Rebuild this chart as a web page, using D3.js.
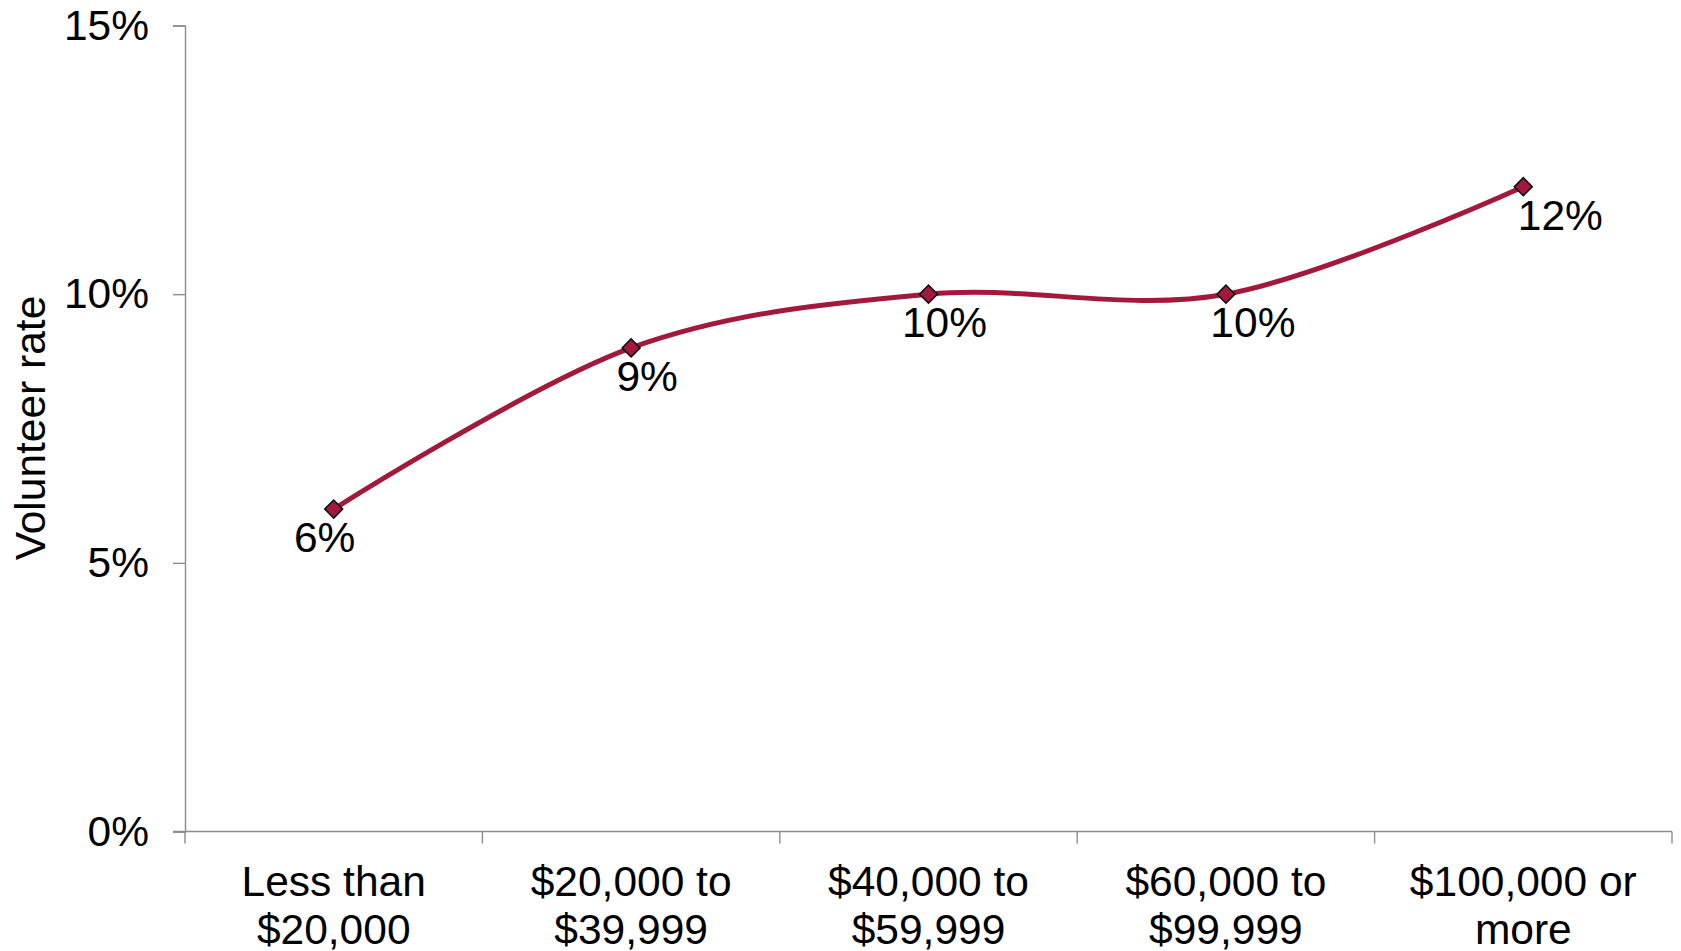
<!DOCTYPE html>
<html>
<head>
<meta charset="utf-8">
<script src="https://cdn.jsdelivr.net/npm/d3@7"></script>
<style>
  html, body { margin: 0; padding: 0; background: #fff; }
  svg { display: block; font-family: "Liberation Sans", Arial, sans-serif; }
</style>
</head>
<body>
<svg id="chart" width="1681" height="951"></svg>
<script>
// Volunteer rate by household income
const categories = [
  ["Less than", "$20,000"],
  ["$20,000 to", "$39,999"],
  ["$40,000 to", "$59,999"],
  ["$60,000 to", "$99,999"],
  ["$100,000 or", "more"]
];
const rates = [6, 9, 10, 10, 12];
const yTicks = [0, 5, 10, 15];
const yTitle = "Volunteer rate";

const lineColor = "#A3193B";
const axisColor = "#8C8C8C";
const fontSize = 42.5;

const svg = d3.select("#chart");
const margin = { left: 185, right: 9, top: 25.5, bottom: 119.5 };
const W = +svg.attr("width"), H = +svg.attr("height");
const plotW = W - margin.left - margin.right;
const plotH = H - margin.top - margin.bottom;

const keys = categories.map((c, i) => i);
const x = d3.scaleBand().domain(keys).range([0, plotW]).paddingInner(0).paddingOuter(0);
const y = d3.scaleLinear().domain([0, 15]).range([plotH, 0]);

const g = svg.append("g").attr("transform", `translate(${margin.left},${margin.top})`);

// Y axis
const yAxis = g.append("g")
  .call(d3.axisLeft(y).tickValues(yTicks).tickFormat(d => d + "%").tickSize(12).tickPadding(24));
yAxis.select(".domain").attr("stroke", axisColor).attr("stroke-width", 1.4);
yAxis.selectAll(".tick line").attr("stroke", axisColor).attr("stroke-width", 1.4);
yAxis.selectAll(".tick text")
  .attr("fill", "#000")
  .style("font-size", fontSize + "px")
  .style("font-family", '"Liberation Sans", Arial, sans-serif');

// X axis: ticks at band boundaries
const xg = g.append("g").attr("transform", `translate(0,${plotH})`);
xg.append("line")
  .attr("x1", -12).attr("x2", plotW)
  .attr("stroke", axisColor).attr("stroke-width", 1.4);
const edges = keys.map(k => x(k)).concat([plotW]);
xg.selectAll("line.edge").data(edges).join("line")
  .attr("class", "edge")
  .attr("x1", d => d).attr("x2", d => d)
  .attr("y1", 0).attr("y2", 12)
  .attr("stroke", axisColor).attr("stroke-width", 1.4);

const catText = xg.selectAll("text.cat").data(categories).join("text")
  .attr("class", "cat")
  .attr("text-anchor", "middle")
  .attr("transform", (d, i) => `translate(${x(i) + x.bandwidth() / 2},0)`)
  .style("font-size", fontSize + "px")
  .attr("fill", "#000");
catText.selectAll("tspan").data(d => d).join("tspan")
  .attr("x", 0)
  .attr("y", (d, j) => 64 + j * 48)
  .text(d => d);

// Y axis title
svg.append("text")
  .attr("transform", `translate(45,428) rotate(-90)`)
  .attr("text-anchor", "middle")
  .style("font-size", fontSize + "px")
  .attr("fill", "#000")
  .text(yTitle);

// Smoothed line
const line = d3.line()
  .x((d, i) => x(i) + x.bandwidth() / 2)
  .y(d => y(d))
  .curve(d3.curveCardinal.tension(0));

g.append("path")
  .datum(rates)
  .attr("fill", "none")
  .attr("stroke", lineColor)
  .attr("stroke-width", 5)
  .attr("d", line);

// Diamond markers
const diamond = d3.symbol().type(d3.symbolSquare).size(160);
g.selectAll("path.marker").data(rates).join("path")
  .attr("class", "marker")
  .attr("d", diamond)
  .attr("transform", (d, i) => `translate(${x(i) + x.bandwidth() / 2},${y(d)}) rotate(45)`)
  .attr("fill", lineColor)
  .attr("stroke", "#111")
  .attr("stroke-width", 1.6);

// Value labels below each point
const labelNudge = [-9, 16, 16, 27, 37];
g.selectAll("text.value").data(rates).join("text")
  .attr("class", "value")
  .attr("text-anchor", "middle")
  .attr("x", (d, i) => x(i) + x.bandwidth() / 2 + labelNudge[i])
  .attr("y", d => y(d) + 43)
  .style("font-size", fontSize + "px")
  .attr("fill", "#000")
  .text(d => d + "%");
</script>
</body>
</html>
